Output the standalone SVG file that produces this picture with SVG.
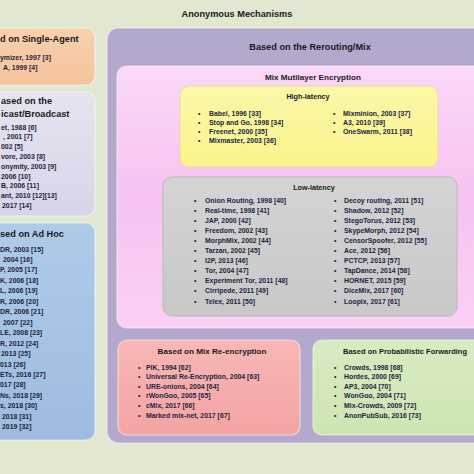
<svg xmlns="http://www.w3.org/2000/svg" width="474" height="474" viewBox="0 0 474 474">
<defs>
<linearGradient id="gOrange" x1="0" y1="0" x2="0" y2="1"><stop offset="0" stop-color="#f9d0ae"/><stop offset="1" stop-color="#f4c39c"/></linearGradient>
<linearGradient id="gLav" x1="0" y1="0" x2="0" y2="1"><stop offset="0" stop-color="#e6e4f1"/><stop offset="1" stop-color="#d7d4e7"/></linearGradient>
<linearGradient id="gBlue" x1="0" y1="0" x2="0" y2="1"><stop offset="0" stop-color="#aecbe9"/><stop offset="1" stop-color="#9dbce0"/></linearGradient>
<linearGradient id="gPink" x1="0" y1="0" x2="0" y2="1"><stop offset="0" stop-color="#fbd8f8"/><stop offset="0.5" stop-color="#f7c2f1"/><stop offset="1" stop-color="#fad0f6"/></linearGradient>
<linearGradient id="gYel" x1="0" y1="0" x2="0" y2="1"><stop offset="0" stop-color="#fbf8a8"/><stop offset="1" stop-color="#faf38c"/></linearGradient>
<linearGradient id="gGrey" x1="0" y1="0" x2="0" y2="1"><stop offset="0" stop-color="#d4d4d4"/><stop offset="1" stop-color="#c8c8c8"/></linearGradient>
<linearGradient id="gRed" x1="0" y1="0" x2="0" y2="1"><stop offset="0" stop-color="#f8b8b5"/><stop offset="1" stop-color="#f4a3a3"/></linearGradient>
<linearGradient id="gGreen" x1="0" y1="0" x2="0" y2="1"><stop offset="0" stop-color="#d8ebc2"/><stop offset="1" stop-color="#cde5b2"/></linearGradient>
</defs>
<style>
text{font-family:"Liberation Sans",Arial,sans-serif;font-weight:bold}
.t{font-size:9.2px;fill:#1a1a1a}
.st{font-size:8.1px;fill:#1a1a1a}
.sst{font-size:7.2px;fill:#1a1a1a}
.i{font-size:6.9px;fill:#1c2540}
.box{stroke:#ffffff;stroke-opacity:0.55;stroke-width:1.2}
</style>
<rect x="0" y="0" width="474" height="474" fill="#e1e7d0"/>
<text class="t" x="237" y="16.5" text-anchor="middle" font-size="10">Anonymous Mechanisms</text>

<g id="single-agent">
<rect class="box" x="-12" y="28" width="107" height="57" rx="9" fill="url(#gOrange)"/>
<text class="t" x="0" y="42">d on Single-Agent</text>
<text class="i" x="0" y="59.5">ymizer, 1997 [3]</text>
<text class="i" x="3" y="70">A, 1999 [4]</text>
</g>

<g id="broadcast">
<rect class="box" x="-12" y="92" width="107" height="124" rx="9" fill="url(#gLav)"/>
<text class="t" x="1" y="104">ased on the</text>
<text class="t" x="1" y="117">icast/Broadcast</text>
<text class="i" x="1" y="129.5">et, 1988 [6]</text>
<text class="i" x="3" y="139.3">, 2001 [7]</text>
<text class="i" x="1" y="149.1">002 [5]</text>
<text class="i" x="1" y="158.9">vore, 2003 [8]</text>
<text class="i" x="1" y="168.7">onymity, 2003 [9]</text>
<text class="i" x="1" y="178.5">2006 [10]</text>
<text class="i" x="1" y="188.3">B, 2006 [11]</text>
<text class="i" x="1" y="198.1">ant, 2010 [12][13]</text>
<text class="i" x="2" y="207.9">2017 [14]</text>
</g>

<g id="adhoc">
<rect class="box" x="-12" y="223" width="107" height="217" rx="9" fill="url(#gBlue)"/>
<text class="t" x="0" y="236.5">sed on Ad Hoc</text>
<text class="i" x="0" y="251.5">DR, 2003 [15]</text>
<text class="i" x="3" y="262">2004 [16]</text>
<text class="i" x="0" y="272.4">P, 2005 [17]</text>
<text class="i" x="0" y="282.9">K, 2006 [18]</text>
<text class="i" x="0" y="293.3">L, 2006 [19]</text>
<text class="i" x="0" y="303.8">R, 2006 [20]</text>
<text class="i" x="0" y="314.2">DR, 2006 [21]</text>
<text class="i" x="3" y="324.7">2007 [22]</text>
<text class="i" x="0" y="335.1">LE, 2008 [23]</text>
<text class="i" x="0" y="345.6">R, 2012 [24]</text>
<text class="i" x="1" y="356">2013 [25]</text>
<text class="i" x="0" y="366.5">013 [26]</text>
<text class="i" x="0" y="376.9">ETs, 2016 [27]</text>
<text class="i" x="0" y="387.4">017 [28]</text>
<text class="i" x="0" y="397.8">Ns, 2018 [29]</text>
<text class="i" x="0" y="408.3">s, 2018 [30]</text>
<text class="i" x="2" y="418.7">2018 [31]</text>
<text class="i" x="2" y="429.2">2019 [32]</text>
</g>

<g id="rerouting">
<rect class="box" x="107" y="28" width="380" height="415" rx="11" fill="#b5a8cd"/>
<text class="t" x="310" y="50" text-anchor="middle">Based on the Rerouting/Mix</text>
</g>

<g id="multilayer">
<rect class="box" x="117" y="66" width="370" height="262" rx="10" fill="url(#gPink)"/>
<text class="st" x="313" y="80" text-anchor="middle">Mix Mutilayer Encryption</text>
</g>

<g id="high-latency">
<rect x="180" y="86" width="258" height="81" rx="9" fill="url(#gYel)" stroke="#ead9a8" stroke-width="1"/>
<text class="sst" x="308" y="98.5" text-anchor="middle">High-latency</text>
<text class="i" y="116"><tspan x="198">•</tspan><tspan x="209">Babel, 1996 [33]</tspan></text>
<text class="i" y="125"><tspan x="198">•</tspan><tspan x="209">Stop and Go, 1998 [34]</tspan></text>
<text class="i" y="134"><tspan x="198">•</tspan><tspan x="209">Freenet, 2000 [35]</tspan></text>
<text class="i" y="143"><tspan x="198">•</tspan><tspan x="209">Mixmaster, 2003 [36]</tspan></text>
<text class="i" y="116"><tspan x="333">•</tspan><tspan x="343">Mixminion, 2003 [37]</tspan></text>
<text class="i" y="125"><tspan x="333">•</tspan><tspan x="343">A3, 2010 [39]</tspan></text>
<text class="i" y="134"><tspan x="333">•</tspan><tspan x="343">OneSwarm, 2011 [38]</tspan></text>
</g>

<g id="low-latency">
<rect x="163" y="177" width="294" height="139" rx="9" fill="url(#gGrey)" stroke="#b9b9b9" stroke-width="1"/>
<text class="sst" x="314" y="190" text-anchor="middle">Low-latency</text>
<text class="i" y="202.5"><tspan x="194">•</tspan><tspan x="205">Onion Routing, 1998 [40]</tspan></text>
<text class="i" y="212.6"><tspan x="194">•</tspan><tspan x="205">Real-time, 1998 [41]</tspan></text>
<text class="i" y="222.7"><tspan x="194">•</tspan><tspan x="205">JAP, 2000 [42]</tspan></text>
<text class="i" y="232.8"><tspan x="194">•</tspan><tspan x="205">Freedom, 2002 [43]</tspan></text>
<text class="i" y="242.9"><tspan x="194">•</tspan><tspan x="205">MorphMix, 2002 [44]</tspan></text>
<text class="i" y="253"><tspan x="194">•</tspan><tspan x="205">Tarzan, 2002 [45]</tspan></text>
<text class="i" y="263.1"><tspan x="194">•</tspan><tspan x="205">I2P, 2013 [46]</tspan></text>
<text class="i" y="273.2"><tspan x="194">•</tspan><tspan x="205">Tor, 2004 [47]</tspan></text>
<text class="i" y="283.3"><tspan x="194">•</tspan><tspan x="205">Experiment Tor, 2011 [48]</tspan></text>
<text class="i" y="293.4"><tspan x="194">•</tspan><tspan x="205">Cirripede, 2011 [49]</tspan></text>
<text class="i" y="303.5"><tspan x="194">•</tspan><tspan x="205">Telex, 2011 [50]</tspan></text>
<text class="i" y="202.5"><tspan x="334">•</tspan><tspan x="344">Decoy routing, 2011 [51]</tspan></text>
<text class="i" y="212.6"><tspan x="334">•</tspan><tspan x="344">Shadow, 2012 [52]</tspan></text>
<text class="i" y="222.7"><tspan x="334">•</tspan><tspan x="344">StegoTorus, 2012 [53]</tspan></text>
<text class="i" y="232.8"><tspan x="334">•</tspan><tspan x="344">SkypeMorph, 2012 [54]</tspan></text>
<text class="i" y="242.9"><tspan x="334">•</tspan><tspan x="344">CensorSpoofer, 2012 [55]</tspan></text>
<text class="i" y="253"><tspan x="334">•</tspan><tspan x="344">Ace, 2012 [56]</tspan></text>
<text class="i" y="263.1"><tspan x="334">•</tspan><tspan x="344">PCTCP, 2013 [57]</tspan></text>
<text class="i" y="273.2"><tspan x="334">•</tspan><tspan x="344">TapDance, 2014 [58]</tspan></text>
<text class="i" y="283.3"><tspan x="334">•</tspan><tspan x="344">HORNET, 2015 [59]</tspan></text>
<text class="i" y="293.4"><tspan x="334">•</tspan><tspan x="344">DiceMix, 2017 [60]</tspan></text>
<text class="i" y="303.5"><tspan x="334">•</tspan><tspan x="344">Loopix, 2017 [61]</tspan></text>
</g>

<g id="re-encryption">
<rect class="box" x="118" y="340" width="182" height="95" rx="9" fill="url(#gRed)"/>
<text class="st" x="212" y="354" text-anchor="middle">Based on Mix Re-encryption</text>
<text class="i" y="369.5"><tspan x="138">•</tspan><tspan x="146">PIK, 1994 [62]</tspan></text>
<text class="i" y="379.1"><tspan x="138">•</tspan><tspan x="146">Universal Re-Encryption, 2004 [63]</tspan></text>
<text class="i" y="388.7"><tspan x="138">•</tspan><tspan x="146">URE-onions, 2004 [64]</tspan></text>
<text class="i" y="398.3"><tspan x="138">•</tspan><tspan x="146">rWonGoo, 2005 [65]</tspan></text>
<text class="i" y="407.9"><tspan x="138">•</tspan><tspan x="146">cMix, 2017 [66]</tspan></text>
<text class="i" y="417.5"><tspan x="138">•</tspan><tspan x="146">Marked mix-net, 2017 [67]</tspan></text>
</g>

<g id="probabilistic">
<rect class="box" x="313" y="340" width="180" height="95" rx="9" fill="url(#gGreen)"/>
<text class="st" x="343" y="354" font-size="7.3px" textLength="124" lengthAdjust="spacingAndGlyphs">Based on Probabilistic Forwarding</text>
<text class="i" y="369.5"><tspan x="334">•</tspan><tspan x="344">Crowds, 1998 [68]</tspan></text>
<text class="i" y="379.1"><tspan x="334">•</tspan><tspan x="344">Hordes, 2000 [69]</tspan></text>
<text class="i" y="388.7"><tspan x="334">•</tspan><tspan x="344">AP3, 2004 [70]</tspan></text>
<text class="i" y="398.3"><tspan x="334">•</tspan><tspan x="344">WonGoo, 2004 [71]</tspan></text>
<text class="i" y="407.9"><tspan x="334">•</tspan><tspan x="344">Mix-Crowds, 2009 [72]</tspan></text>
<text class="i" y="417.5"><tspan x="334">•</tspan><tspan x="344">AnonPubSub, 2016 [73]</tspan></text>
</g>

<g id="connectors"></g>
</svg>
